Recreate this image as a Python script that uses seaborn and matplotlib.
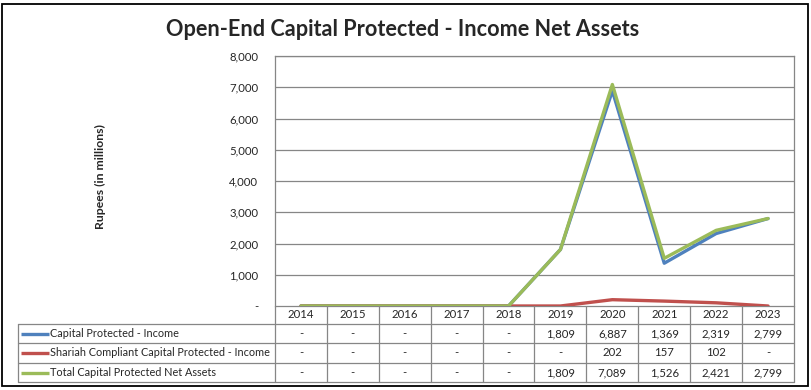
import pandas as pd
import matplotlib.pyplot as plt
import seaborn as sns
from matplotlib.patches import Rectangle

years = ['2014', '2015', '2016', '2017', '2018', '2019', '2020', '2021', '2022', '2023']
capital_protected = [0, 0, 0, 0, 0, 1809, 6887, 1369, 2319, 2799]
shariah_compliant = [0, 0, 0, 0, 0, 0, 202, 157, 102, 0]
total_net_assets = [0, 0, 0, 0, 0, 1809, 7089, 1526, 2421, 2799]

series_names = ['Capital Protected - Income',
                'Shariah Compliant Capital Protected - Income',
                'Total Capital Protected Net Assets']
series_values = [capital_protected, shariah_compliant, total_net_assets]
colors = ['#4F81BD', '#C0504D', '#9BBB59']

rows = []
for name, vals in zip(series_names, series_values):
    for i, v in enumerate(vals):
        rows.append({'idx': i, 'year': years[i], 'value': v, 'series': name})
df = pd.DataFrame(rows)

sns.set_style('white')
plt.rcParams['font.family'] = ['Lato', 'DejaVu Sans']

W, H = 812, 390
fig = plt.figure(figsize=(W / 100, H / 100), dpi=100)

# plot area in pixel units of the reference
px_left, px_right, px_top, px_bottom = 275, 794, 56, 306
ax = fig.add_axes([px_left / W, 1 - px_bottom / H, (px_right - px_left) / W, (px_bottom - px_top) / H])

sns.lineplot(data=df, x='idx', y='value', hue='series', hue_order=series_names,
             palette=colors, linewidth=2.4, ax=ax, legend=False)

ax.set_xlim(-0.5, len(years) - 0.5)
ax.set_ylim(0, 8000)
ax.set_yticks(range(0, 8001, 1000))
ax.set_yticklabels(['-'] + [f'{v:,}' for v in range(1000, 8001, 1000)], fontsize=8.2)
ax.tick_params(axis='y', length=0, pad=12)
ax.set_xticks([])
ax.set_xlabel('')
ax.set_ylabel('')
grid_c = '#868686'
ax.yaxis.grid(True, color=grid_c, linewidth=0.9)
ax.set_axisbelow(True)
for s in ['left', 'top', 'right']:
    ax.spines[s].set_color(grid_c)
    ax.spines[s].set_linewidth(0.9)
ax.spines['bottom'].set_visible(False)

fig.text(100 / W, 1 - 177 / H, 'Rupees (in millions)', rotation=90, ha='center', va='center',
         fontsize=8.8, fontweight='bold')
fig.text(403 / W, 1 - 30 / H, 'Open-End Capital Protected - Income Net Assets', ha='center', va='center',
         fontsize=15.6, fontweight='bold')

# data table drawn in pixel coordinates
tab = fig.add_axes([0, 0, 1, 1], zorder=-1)
tab.set_xlim(0, W)
tab.set_ylim(H, 0)
tab.axis('off')

tab.add_patch(Rectangle((2, 3.5), 806, 382.5, fill=False, edgecolor='black', linewidth=1.3))

t_left = 18
col_w = (px_right - px_left) / len(years)
row_y = [306, 324, 343, 363, 382]
lw = 0.9
# horizontal lines
tab.plot([px_left, px_right], [row_y[0], row_y[0]], color=grid_c, lw=lw)
for y in row_y[1:]:
    tab.plot([t_left, px_right], [y, y], color=grid_c, lw=lw)
# vertical lines
tab.plot([t_left, t_left], [row_y[1], row_y[-1]], color=grid_c, lw=lw)
for i in range(len(years) + 1):
    x = px_left + i * col_w
    tab.plot([x, x], [row_y[0], row_y[-1]], color=grid_c, lw=lw)

for i, yr in enumerate(years):
    tab.text(px_left + (i + 0.5) * col_w, (row_y[0] + row_y[1]) / 2, yr,
             ha='center', va='center', fontsize=8.2)

for r, (name, vals, c) in enumerate(zip(series_names, series_values, colors)):
    yc = (row_y[r + 1] + row_y[r + 2]) / 2
    tab.plot([21, 49], [yc, yc], color=c, lw=2.4, solid_capstyle='butt')
    tab.text(50, yc, name, ha='left', va='center', fontsize=7.8)
    for i, v in enumerate(vals):
        tab.text(px_left + (i + 0.5) * col_w, yc, f'{v:,}' if v else '-',
                 ha='center', va='center', fontsize=8.2)

fig.savefig('out.png', dpi=100)
